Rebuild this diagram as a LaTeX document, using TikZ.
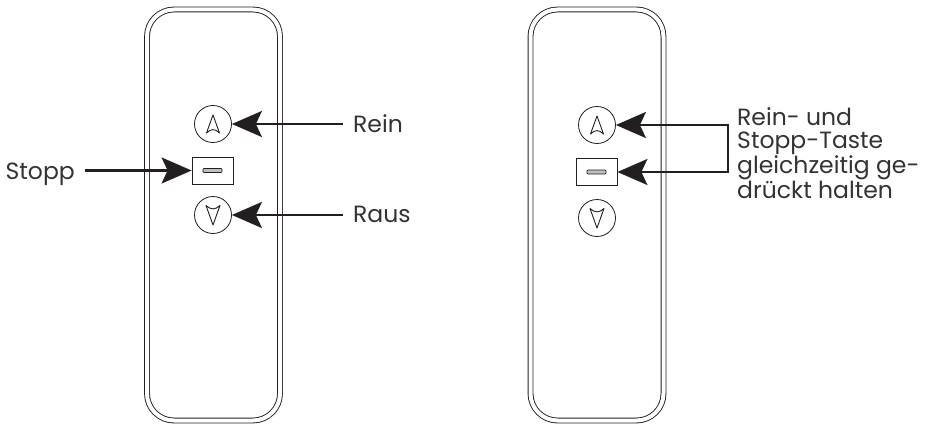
\documentclass[tikz,border=0pt]{standalone}
\usepackage{fontspec}
\setmainfont{Poppins}
\usetikzlibrary{arrows.meta}
\definecolor{ink}{HTML}{231F20}
\definecolor{txt}{HTML}{333333}
\tikzset{
  upglyph/.pic={\draw[ink, line width=0.9pt, line join=round] (0,-9) -- (6.5,9) .. controls (2,4.5) and (-2,4.5) .. (-6.5,9) -- cycle;},
  downglyph/.pic={\draw[ink, line width=0.9pt, line join=round] (0,10) -- (7,-9.5) .. controls (2,-5) and (-2,-5) .. (-7,-9.5) -- cycle;}
}
\begin{document}
\begin{tikzpicture}[x=1pt,y=-1pt,
  body/.style={draw=ink, line width=0.9pt, double=white, double distance=4pt, rounded corners=27pt, minimum width=133pt, minimum height=411pt, inner sep=0pt},
  btn/.style={circle, draw=ink, line width=0.8pt, minimum size=37pt, inner sep=0pt},
  stopbtn/.style={draw=ink, line width=0.8pt, minimum width=41pt, minimum height=27pt, inner sep=0pt},
  bar/.style={draw=ink, line width=0.7pt, fill=black!25, rounded corners=0.8pt, minimum width=19pt, minimum height=4pt, inner sep=0pt},
  lbl/.style={text=txt, font=\fontsize{23.5}{23.3}\selectfont, inner xsep=10pt, inner ysep=0pt},
  tip/.tip={Stealth[length=30pt,width=26pt,inset=6pt]},
  arr/.style={draw=ink, line width=2.2pt, -tip},
  arrs/.style={draw=ink, line width=2.2pt, tip-tip}
]
\useasboundingbox (0,0) rectangle (929,425);
% remote bodies
\node[body] (bodyL) at (213.5,215) {};
\node[body] (bodyR) at (597,215) {};
% left buttons
\node[btn] (upL) at (213,124) {};
\node[stopbtn] (stopL) at (212.5,170.5) {};
\node[bar] (barL) at (stopL) {};
\node[btn] (downL) at (213,215) {};
\pic at (upL) {upglyph};
\pic at (downL) {downglyph};
% right buttons
\node[btn] (upR) at (597,125) {};
\node[stopbtn] (stopR) at (596.5,172) {};
\node[bar] (barR) at (stopR) {};
\node[btn] (downR) at (597,218) {};
\pic at (upR) {upglyph};
\pic at (downR) {downglyph};
% left labels
\node[lbl, anchor=base west] (rein) at (343,133) {Rein};
\node[lbl, anchor=base west] (raus) at (343,222) {Raus};
\node[lbl, anchor=base east] (stopp) at (85,179) {Stopp};
\draw[arr] (upL.east -| rein.west) -- (upL.east);
\draw[arr] (downL.east -| raus.west) -- (downL.east);
\draw[arr] (stopL.west -| stopp.east) -- (stopL.west);
% right label
\node[lbl, align=left, anchor=north west, inner sep=0pt] (hint) at (737,107.5) {Rein- und\\Stopp-Taste\\gleichzeitig ge-\\drückt halten};
\coordinate (br) at ([xshift=-9pt]hint.west);
\draw[arrs] (upR.east) -- (upR.east -| br) -- (stopR.east -| br) -- (stopR.east);
\end{tikzpicture}
\end{document}
